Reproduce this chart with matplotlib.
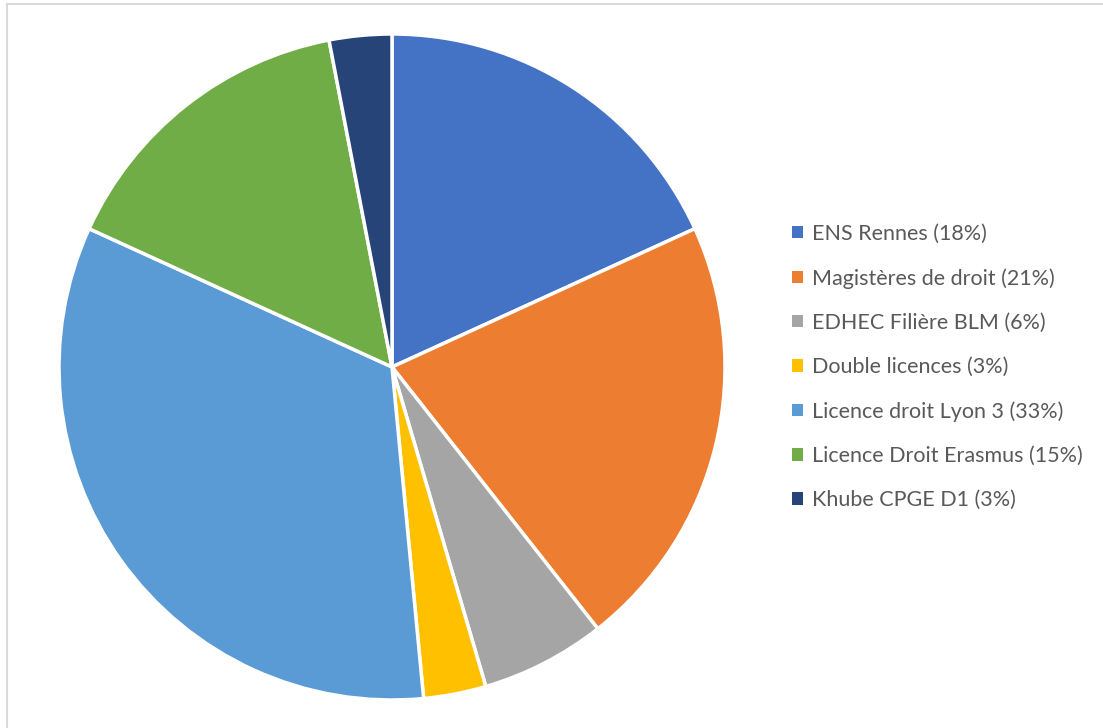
import matplotlib
matplotlib.use("Agg")
import matplotlib.pyplot as plt
from matplotlib.patches import Patch
from matplotlib.lines import Line2D

labels = ["ENS Rennes", "Magistères de droit", "EDHEC Filière BLM", "Double licences",
          "Licence droit Lyon 3", "Licence Droit Erasmus", "Khube CPGE D1"]
shares = [18, 21, 6, 3, 33, 15, 3]
colors = ["#4472C4", "#ED7D31", "#A5A5A5", "#FFC000", "#5B9BD5", "#70AD47", "#264478"]

W, H = 1103, 728
fig = plt.figure(figsize=(W / 100, H / 100), dpi=100)

# pie centre (392, 367) px, radius 333 px
cx, cy, r = 392, 367, 333
ax = fig.add_axes([(cx - r) / W, (H - cy - r) / H, 2 * r / W, 2 * r / H])
wedges, _ = ax.pie(shares, colors=colors, startangle=90, counterclock=False,
                   wedgeprops=dict(edgecolor="white", linewidth=2.5))
ax.set_xlim(-1, 1)
ax.set_ylim(-1, 1)
ax.set_aspect("equal")

# chart-area border (only top and left visible in the crop)
fig.add_artist(Line2D([7 / W, 7 / W], [0, 1 - 4 / H], color="#D9D9D9", lw=1.5))
fig.add_artist(Line2D([7 / W, 1], [1 - 4 / H, 1 - 4 / H], color="#D9D9D9", lw=1.5))

handles = [Patch(facecolor=c, edgecolor="none") for c in colors]
texts = [f"{l} ({s}%)" for l, s in zip(labels, shares)]
leg = fig.legend(handles, texts, loc="upper left", bbox_to_anchor=(781 / W, 1 - 213 / H),
                 frameon=False, prop=dict(family="Lato", size=15.5),
                 handlelength=0.5, handleheight=0.5, handletextpad=0.45,
                 labelspacing=1.125, borderpad=0)
for t in leg.get_texts():
    t.set_color("#595959")

fig.savefig("out.png", dpi=100)
